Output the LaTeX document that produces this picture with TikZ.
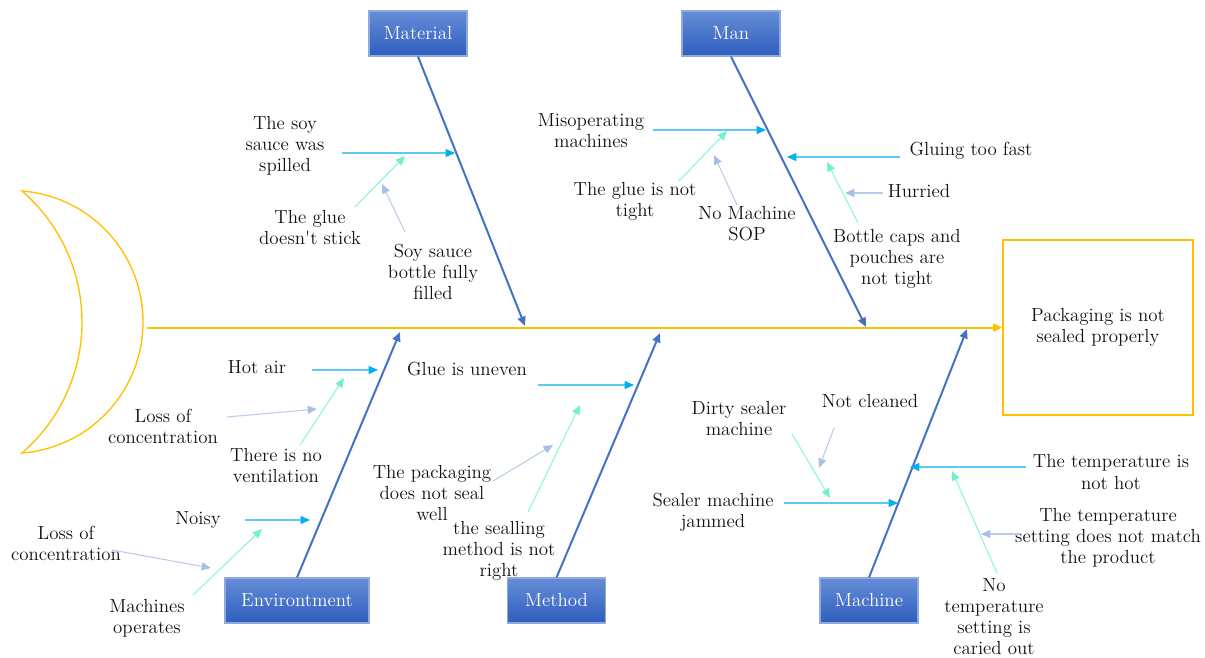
\documentclass[tikz,border=0pt]{standalone}
\usetikzlibrary{arrows.meta}
\definecolor{gold}{HTML}{FFC000}
\definecolor{bone}{HTML}{4472C4}
\definecolor{cyl}{HTML}{5CCBF4}
\definecolor{cytip}{HTML}{00B0F0}
\definecolor{aq}{HTML}{86F7D8}
\definecolor{aqtip}{HTML}{6FF2CC}
\definecolor{gr}{HTML}{B9CBEA}
\definecolor{grtip}{HTML}{A9BFE6}
\definecolor{boxtop}{HTML}{658CD6}
\definecolor{boxbot}{HTML}{2F5EBE}
\definecolor{boxline}{HTML}{8FAADC}
\definecolor{txt}{HTML}{111111}
\begin{document}
\begin{tikzpicture}[x=0.75pt,y=-0.75pt,
  font=\fontsize{14.2}{15.8}\selectfont,
  cat/.style={draw=boxline, line width=0.8pt, top color=boxtop, bottom color=boxbot,
    text=white, minimum height=33.75pt, minimum width=73.5pt, inner sep=0pt, align=center},
  lbl/.style={align=center, inner sep=0pt, text=txt},
  bonearrow/.style={draw=bone, line width=1.5pt, -{Triangle[length=7pt,width=6pt]}},
  ca/.style={draw=cyl, line width=0.8pt, -{Triangle[length=7pt,width=6pt,color=cytip]}},
  aa/.style={draw=aq, line width=0.8pt, -{Triangle[length=7pt,width=6pt,color=aqtip]}},
  ga/.style={draw=gr, line width=0.8pt, -{Triangle[length=7pt,width=6pt,color=grtip]}}
]
\useasboundingbox (0,0) rectangle (1205,657);

% head (crescent)
\draw[gold, line width=1pt, line join=miter]
  (22,191) .. controls (90.5,196.4) and (143,253.3) .. (143,322)
  .. controls (143,390.7) and (90.5,447.6) .. (22,453)
  .. controls (60.1,420.2) and (82,372.3) .. (82,322)
  .. controls (82,271.7) and (60.1,223.8) .. (22,191) -- cycle;

% effect
\node[draw=gold, line width=1pt, minimum width=142.5pt, minimum height=131.25pt, align=center, text=txt, inner sep=0pt]
  (effect) at (1098,327.5) {Packaging is not\\sealed properly};
\coordinate (spinestart) at (147,327.5);
\draw[gold, line width=1.5pt, -{Triangle[length=7pt,width=6pt]}] (spinestart) -- (effect.west);

% categories
\node[cat] (material) at (418,33.5) {Material};
\node[cat] (man) at (731,33.5) {Man};
\node[cat, minimum width=108pt] (env) at (297,600.5) {Environtment};
\node[cat] (method) at (556.5,600.5) {Method};
\node[cat] (machine) at (869,600.5) {Machine};

\coordinate (matend) at (525,326);
\coordinate (manend) at (866,327);
\coordinate (envend) at (400,332);
\coordinate (metend) at (660,333);
\coordinate (macend) at (967,329);
\draw[bonearrow] (material.south) -- (matend);
\draw[bonearrow] (man.south) -- (manend);
\draw[bonearrow] (env.north) -- (envend);
\draw[bonearrow] (method.north) -- (metend);
\draw[bonearrow] (machine.north) -- (macend);

% ---------- Material ----------
\node[lbl] (t1) at (285,146) {The soy\\sauce was\\spilled};
\node[lbl] (t2) at (310,227.5) {The glue\\doesn\textquotesingle t stick};
\node[lbl] (t3) at (433,272) {Soy sauce\\bottle fully\\filled};
\coordinate (t1a) at (342,153); \coordinate (t1b) at (455,153);
\coordinate (t2a) at (355,207); \coordinate (t2b) at (405,156);
\coordinate (t3a) at (405,232); \coordinate (t3b) at (382,184);
\draw[ca] (t1a) -- (t1b);
\draw[aa] (t2a) -- (t2b);
\draw[ga] (t3a) -- (t3b);

% ---------- Man ----------
\node[lbl] (u1) at (591,130.5) {Misoperating\\machines};
\node[lbl] (u2) at (635,201.5) {The glue is not\\tight};
\node[lbl] (u3) at (747,223.5) {No Machine\\SOP};
\node[lbl] (u4) at (971,151) {Gluing too fast};
\node[lbl] (u5) at (919,191) {Hurried};
\node[lbl] (u6) at (897,259) {Bottle caps and\\pouches are\\not tight};
\coordinate (u1a) at (653,130); \coordinate (u1b) at (766,130);
\coordinate (u2a) at (679,181); \coordinate (u2b) at (727,131);
\coordinate (u3a) at (737,205); \coordinate (u3b) at (714,155);
\coordinate (u4a) at (900,157); \coordinate (u4b) at (787,157);
\coordinate (u5a) at (883,193); \coordinate (u5b) at (845,193);
\coordinate (u6a) at (858,223); \coordinate (u6b) at (827,162);
\draw[ca] (u1a) -- (u1b);
\draw[aa] (u2a) -- (u2b);
\draw[ga] (u3a) -- (u3b);
\draw[ca] (u4a) -- (u4b);
\draw[ga] (u5a) -- (u5b);
\draw[aa] (u6a) -- (u6b);

% ---------- Environment ----------
\node[lbl] (e1) at (257,367) {Hot air};
\node[lbl] (e2) at (163,426) {Loss of\\concentration};
\node[lbl] (e3) at (276,465.5) {There is no\\ventilation};
\node[lbl] (e4) at (198,520) {Noisy};
\node[lbl] (e5) at (66,543.5) {Loss of\\concentration};
\node[lbl] (e6) at (147,618.5) {Machines\\operates};
\coordinate (e1a) at (312,370); \coordinate (e1b) at (378,370);
\coordinate (e2a) at (227,417); \coordinate (e2b) at (317,409);
\coordinate (e3a) at (300,445); \coordinate (e3b) at (344,378);
\coordinate (e4a) at (245,520); \coordinate (e4b) at (310,520);
\coordinate (e5a) at (112,550); \coordinate (e5b) at (211,568);
\coordinate (e6a) at (193,595); \coordinate (e6b) at (262,529);
\draw[ca] (e1a) -- (e1b);
\draw[ga] (e2a) -- (e2b);
\draw[aa] (e3a) -- (e3b);
\draw[ca] (e4a) -- (e4b);
\draw[ga] (e5a) -- (e5b);
\draw[aa] (e6a) -- (e6b);

% ---------- Method ----------
\node[lbl] (d1) at (467,369) {Glue is uneven};
\node[lbl] (d2) at (432,493) {The packaging\\does not seal\\well};
\node[lbl] (d3) at (499,551) {the sealling\\method is not\\right};
\coordinate (d1a) at (538,385); \coordinate (d1b) at (634,385);
\coordinate (d2a) at (493,481); \coordinate (d2b) at (553,445);
\coordinate (d3a) at (528,512); \coordinate (d3b) at (580,405);
\draw[ca] (d1a) -- (d1b);
\draw[ga] (d2a) -- (d2b);
\draw[aa] (d3a) -- (d3b);

% ---------- Machine ----------
\node[lbl] (k1) at (739,418.5) {Dirty sealer\\machine};
\node[lbl] (k2) at (870,401) {Not cleaned};
\node[lbl] (k3) at (713,512) {Sealer machine\\jammed};
\node[lbl] (k4) at (1111,472) {The temperature is\\not hot};
\node[lbl] (k5) at (1108,537.5) {The temperature\\setting does not match\\the product};
\node[lbl] (k6) at (994,617) {No\\temperature\\setting is\\caried out};
\coordinate (k1a) at (792,434); \coordinate (k1b) at (830,498);
\coordinate (k2a) at (834,428); \coordinate (k2b) at (819,468);
\coordinate (k3a) at (784,503); \coordinate (k3b) at (898,503);
\coordinate (k4a) at (1026,467); \coordinate (k4b) at (910,467);
\coordinate (k5a) at (1020,534); \coordinate (k5b) at (981,534);
\coordinate (k6a) at (997,573); \coordinate (k6b) at (952,471);
\draw[aa] (k1a) -- (k1b);
\draw[ga] (k2a) -- (k2b);
\draw[ca] (k3a) -- (k3b);
\draw[ca] (k4a) -- (k4b);
\draw[ga] (k5a) -- (k5b);
\draw[aa] (k6a) -- (k6b);
\end{tikzpicture}
\end{document}
